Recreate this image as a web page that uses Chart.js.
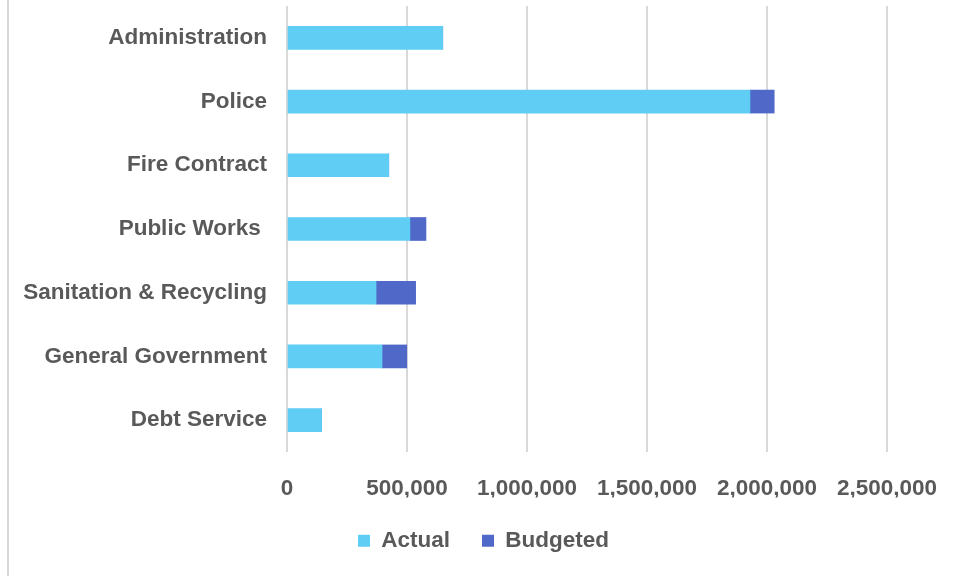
<!DOCTYPE html>
<html>
<head>
<meta charset="utf-8">
<script src="https://cdn.jsdelivr.net/npm/chart.js@4.4.1/dist/chart.umd.min.js"></script>
<style>
  html, body { margin: 0; padding: 0; background: #ffffff; }
  #wrap { width: 961px; height: 576px; position: relative; }
</style>
</head>
<body>
<div id="wrap"><canvas id="c"></canvas></div>
<script>
const categories = ["Administration", "Police", "Fire Contract", "Public Works ", "Sanitation & Recycling", "General Government", "Debt Service"];
const actualValues = [649000, 1929000, 424000, 512000, 371000, 396000, 144000];
const budgetedValues = [0, 101000, 0, 67000, 165000, 103000, 0];
const axisMax = 2500000;
const axisStep = 500000;

const textColor = '#595959';
const fontFamily = '"Liberation Sans", Arial, sans-serif';
const fontSize = 22.5;

const leftBorder = {
  id: 'leftBorder',
  beforeDraw(chart) {
    const ctx = chart.ctx;
    ctx.save();
    ctx.strokeStyle = '#d9d9d9';
    ctx.lineWidth = 2;
    ctx.beginPath();
    ctx.moveTo(8, 0);
    ctx.lineTo(8, chart.height);
    ctx.stroke();
    ctx.restore();
  }
};

const legendShift = {
  id: 'legendShift',
  afterLayout(chart) {
    const lg = chart.legend;
    if (lg) {
      lg.left = 80;
      lg.right = 887;
      lg.width = lg.right - lg.left;
    }
  }
};

new Chart(document.getElementById('c'), {
  type: 'bar',
  data: {
    labels: categories,
    datasets: [
      { label: 'Actual', data: actualValues, backgroundColor: '#5fcdf4', barThickness: 23 },
      { label: 'Budgeted', data: budgetedValues, backgroundColor: '#5068c8', barThickness: 23 }
    ]
  },
  options: {
    indexAxis: 'y',
    responsive: true,
    maintainAspectRatio: false,
    animation: false,
    devicePixelRatio: 1,
    layout: { padding: { top: 6, left: 0, right: 74, bottom: 14 } },
    scales: {
      x: {
        stacked: true,
        min: 0,
        max: axisMax,
        border: { display: false },
        grid: { color: '#d9d9d9', lineWidth: 2, drawTicks: false },
        ticks: {
          stepSize: axisStep,
          padding: 23,
          color: textColor,
          font: { family: fontFamily, size: fontSize, weight: 'bold' },
          maxRotation: 0,
          callback: (v) => Number(v).toLocaleString('en-US')
        },
        afterFit(scale) { scale.height = 45.5; }
      },
      y: {
        stacked: true,
        border: { display: false },
        grid: { display: false, drawTicks: false },
        ticks: {
          padding: 20,
          color: textColor,
          font: { family: fontFamily, size: fontSize, weight: 'bold' }
        },
        afterFit(scale) { scale.width = 287; scale.paddingTop = 0; scale.paddingBottom = 0; }
      }
    },
    plugins: {
      legend: {
        position: 'bottom',
        labels: {
          boxWidth: 12,
          boxHeight: 12,
          padding: 32,
          color: textColor,
          font: { family: fontFamily, size: fontSize, weight: 'bold' }
        }
      },
      tooltip: { enabled: false }
    }
  },
  plugins: [leftBorder, legendShift]
});
</script>
</body>
</html>
